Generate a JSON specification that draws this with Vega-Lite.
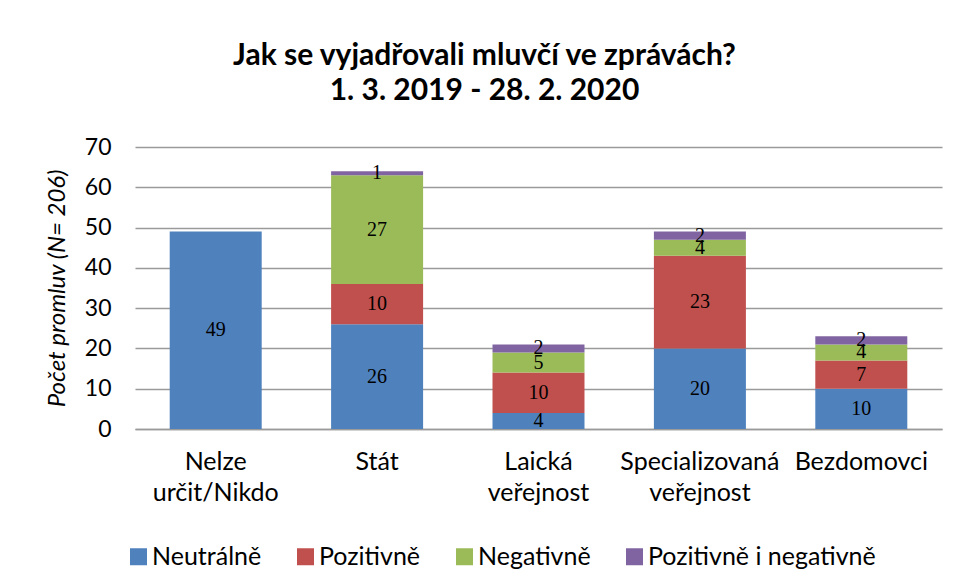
{
  "$schema": "https://vega.github.io/schema/vega-lite/v6.json",
  "width": 807,
  "height": 282,
  "autosize": {"type": "none"},
  "padding": {"left": 135, "top": 147, "right": 14, "bottom": 157},
  "background": "white",
  "title": {
    "text": ["Jak se vyjadřovali mluvčí ve zprávách?", "1. 3. 2019 - 28. 2. 2020"],
    "font": "Lato",
    "fontSize": 30,
    "fontWeight": "bold",
    "color": "#000000",
    "lineHeight": 35,
    "anchor": "middle",
    "dx": -54,
    "offset": 30
  },
  "data": {
    "values": [
      {"cat": "Nelze určit/Nikdo", "series": "Neutrálně", "order": 1, "value": 49},
      {"cat": "Stát", "series": "Neutrálně", "order": 1, "value": 26},
      {"cat": "Stát", "series": "Pozitivně", "order": 2, "value": 10},
      {"cat": "Stát", "series": "Negativně", "order": 3, "value": 27},
      {"cat": "Stát", "series": "Pozitivně i negativně", "order": 4, "value": 1},
      {"cat": "Laická veřejnost", "series": "Neutrálně", "order": 1, "value": 4},
      {"cat": "Laická veřejnost", "series": "Pozitivně", "order": 2, "value": 10},
      {"cat": "Laická veřejnost", "series": "Negativně", "order": 3, "value": 5},
      {"cat": "Laická veřejnost", "series": "Pozitivně i negativně", "order": 4, "value": 2},
      {"cat": "Specializovaná veřejnost", "series": "Neutrálně", "order": 1, "value": 20},
      {"cat": "Specializovaná veřejnost", "series": "Pozitivně", "order": 2, "value": 23},
      {"cat": "Specializovaná veřejnost", "series": "Negativně", "order": 3, "value": 4},
      {"cat": "Specializovaná veřejnost", "series": "Pozitivně i negativně", "order": 4, "value": 2},
      {"cat": "Bezdomovci", "series": "Neutrálně", "order": 1, "value": 10},
      {"cat": "Bezdomovci", "series": "Pozitivně", "order": 2, "value": 7},
      {"cat": "Bezdomovci", "series": "Negativně", "order": 3, "value": 4},
      {"cat": "Bezdomovci", "series": "Pozitivně i negativně", "order": 4, "value": 2}
    ]
  },
  "transform": [
    {"stack": "value", "groupby": ["cat"], "sort": [{"field": "order", "order": "ascending"}], "as": ["v0", "v1"]},
    {"calculate": "(datum.v0 + datum.v1) / 2", "as": "mid"}
  ],
  "encoding": {
    "x": {
      "field": "cat",
      "type": "nominal",
      "sort": ["Nelze určit/Nikdo", "Stát", "Laická veřejnost", "Specializovaná veřejnost", "Bezdomovci"],
      "scale": {"paddingInner": 0.43, "paddingOuter": 0.215},
      "axis": {
        "title": null,
        "labelAngle": 0,
        "labelExpr": "split(datum.label, ' ')",
        "labelFont": "Lato",
        "labelFontSize": 25,
        "labelColor": "#000000",
        "labelLineHeight": 31,
        "labelPadding": 20,
        "labelLimit": 0,
        "ticks": false,
        "domainColor": "#9a9a9a",
        "domainWidth": 1.5,
        "grid": false
      }
    }
  },
  "layer": [
    {
      "mark": {"type": "bar"},
      "encoding": {
        "y": {
          "field": "v0",
          "type": "quantitative",
          "scale": {"domain": [0, 70], "nice": false},
          "axis": {
            "title": "Počet promluv (N= 206)",
            "titleFont": "Lato",
            "titleFontSize": 24,
            "titleFontStyle": "italic",
            "titleFontWeight": "normal",
            "titleColor": "#000000",
            "titleX": -78,
            "titleY": 141,
            "titleAngle": -90,
            "titleBaseline": "middle",
            "titleAlign": "center",
            "values": [0, 10, 20, 30, 40, 50, 60, 70],
            "labelFont": "Lato",
            "labelFontSize": 23,
            "labelColor": "#000000",
            "labelPadding": 24,
            "ticks": false,
            "domain": false,
            "grid": true,
            "gridColor": "#9a9a9a",
            "gridWidth": 1.5
          }
        },
        "y2": {"field": "v1"},
        "color": {
          "field": "series",
          "type": "nominal",
          "scale": {
            "domain": ["Neutrálně", "Pozitivně", "Negativně", "Pozitivně i negativně"],
            "range": ["#4F81BD", "#C0504D", "#9BBB59", "#8064A2"]
          },
          "legend": {
            "title": null,
            "orient": "none",
            "direction": "horizontal",
            "legendX": -9,
            "legendY": 397,
            "symbolType": "square",
            "symbolSize": 289,
            "symbolStrokeWidth": 0,
            "symbolOpacity": 1,
            "labelFont": "Lato",
            "labelFontSize": 25,
            "labelColor": "#000000",
            "labelOffset": 1,
            "labelLimit": 0,
            "columnPadding": 31
          }
        }
      }
    },
    {
      "mark": {"type": "text", "font": "Liberation Serif", "fontSize": 20, "color": "#000000", "baseline": "middle", "align": "center"},
      "encoding": {
        "y": {"field": "mid", "type": "quantitative"},
        "text": {"field": "value", "type": "quantitative"}
      }
    }
  ],
  "config": {
    "view": {"stroke": null}
  }
}
